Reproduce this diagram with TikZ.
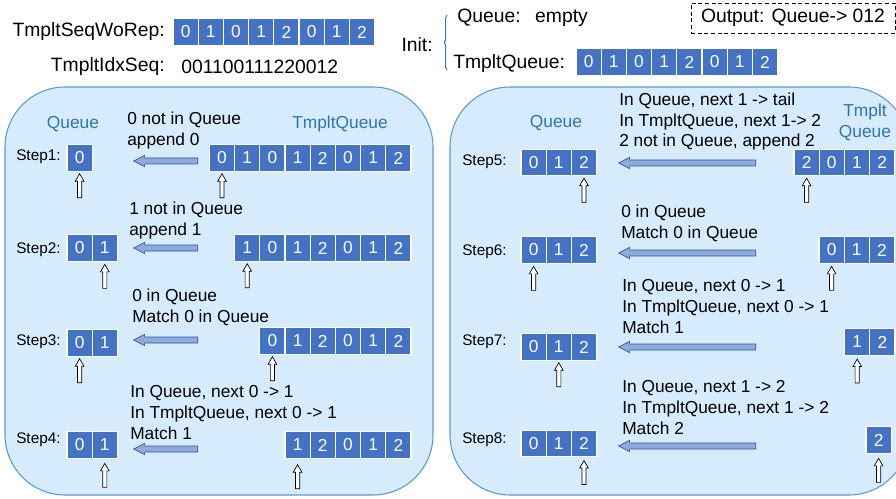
\documentclass[tikz,border=0pt]{standalone}
\usepackage{fontspec}
\setmainfont{Liberation Sans}
\usetikzlibrary{shapes.arrows}
\usetikzlibrary{decorations.pathreplacing}
\definecolor{cellblue}{HTML}{4472C4}
\definecolor{panelfill}{HTML}{D6EBFB}
\definecolor{paneledge}{HTML}{5B9BD5}
\definecolor{headblue}{HTML}{2E75B6}
\definecolor{movefill}{HTML}{8FAADC}
\definecolor{moveedge}{HTML}{2F5597}
\tikzset{
  cellbox/.style={fill=cellblue, draw=white, line width=0.8pt, text=white, minimum width=18.9pt, minimum height=19.8pt, inner sep=0pt, font=\fontsize{13}{15}\selectfont},
  note/.style={anchor=base west, align=left, inner sep=0pt, font=\fontsize{13}{15.4}\selectfont},
  head/.style={text=headblue, inner sep=0pt, align=center, font=\fontsize{13}{15.6}\selectfont},
  steplabel/.style={anchor=west, inner sep=0pt, font=\fontsize{11.5}{13}\selectfont},
  toplabel/.style={inner sep=0pt, font=\fontsize{14.5}{17}\selectfont},
  ptr/.style={single arrow, draw=black, fill=white, line width=0.5pt, shape border rotate=90, anchor=tip, minimum height=18pt, inner sep=1.3pt, single arrow head extend=1.7pt, single arrow tip angle=60, single arrow head indent=0pt},
  movearrow/.style={single arrow, draw=moveedge, fill=movefill, line width=0.5pt, shape border rotate=180, anchor=tip, inner sep=2pt, single arrow head extend=2pt, single arrow tip angle=55, single arrow head indent=0pt},
  panel/.style={fill=panelfill, draw=paneledge, line width=0.8pt, rounded corners=45pt}
}
\newcommand{\cellrow}[4]{\foreach \d [count=\i] in {#4} \node[cellbox] (#1\i) at ({#2+25.2*\i-12.6}, #3) {\d};}

\begin{document}
\begin{tikzpicture}[x=0.75pt, y=-0.75pt]
    \useasboundingbox (0,0) rectangle (896,499);
    \clip (0,0) rectangle (896,499);

    % inputs
    \node[toplabel, anchor=east] (seqlabel) at (165,32) {TmpltSeqWoRep:};
    \cellrow{seq}{173}{32}{0,1,0,1,2,0,1,2}
    \node[toplabel, anchor=east] (idxlabel) at (165,67) {TmpltIdxSeq:};
    \node[toplabel, anchor=west] (idxseq) at (181,67) {001100111220012};

    % init
    \node[toplabel, anchor=east] (initlabel) at (433,45) {Init:};
    \draw[decorate, decoration={brace, amplitude=2pt}, draw=cellblue, line width=0.8pt] (447,70) -- (447,15);
    \node[toplabel, anchor=west] (initq) at (457,18) {Queue:\hspace{0.75em}empty};
    \node[toplabel, anchor=west] (initt) at (453,64) {TmpltQueue:};
    \cellrow{init}{576}{62}{0,1,0,1,2,0,1,2}
    \node[toplabel, draw, densely dashed, line width=0.6pt, minimum width=153pt, minimum height=22.5pt] (output) at (793,18) {Output: Queue-> 012};

    % panels
    \draw[panel] (5,87) rectangle (433,495);
    \draw[panel] (450,87) rectangle (909,495);
    \node[head] (lqhead) at (73,124) {Queue};
    \node[head] (lthead) at (340,124) {TmpltQueue};
    \node[head] (rqhead) at (556,123) {Queue};
    \node[head] (rthead) at (865,122) {Tmplt\\Queue};

    % step1
    \node[steplabel] (st1) at (16,157) {Step1:};
    \cellrow{s1q}{67}{158}{0}
    \cellrow{s1t}{209.4}{158}{0,1,0,1,2,0,1,2}
    \node[movearrow, minimum height=48pt] (s1mv) at (133,161) {};
    \node[ptr] (s1qp) at ([yshift=-1pt]s1q1.south) {};
    \node[ptr] (s1tp) at ([yshift=-1pt]s1t1.south) {};
    \node[note] (s1txt) at (127,145.5) {0 not in Queue\\append 0};

    % step2
    \node[steplabel] (st2) at (16,250) {Step2:};
    \cellrow{s2q}{67}{248}{0,1}
    \cellrow{s2t}{234.6}{248}{1,0,1,2,0,1,2}
    \node[movearrow, minimum height=48pt] (s2mv) at (133,248) {};
    \node[ptr] (s2qp) at ([yshift=-1.5pt]s2q2.south) {};
    \node[ptr] (s2tp) at ([yshift=-1pt]s2t1.south) {};
    \node[note] (s2txt) at (129,235.5) {1 not in Queue\\append 1};

    % step3
    \node[steplabel] (st3) at (16,342) {Step3:};
    \cellrow{s3q}{67}{343}{0,1}
    \cellrow{s3t}{259.8}{341}{0,1,2,0,1,2}
    \node[movearrow, minimum height=48pt] (s3mv) at (133,340) {};
    \node[ptr] (s3qp) at ([yshift=-1pt]s3q1.south) {};
    \node[ptr] (s3tp) at ([yshift=-1pt]s3t1.south) {};
    \node[note] (s3txt) at (132,322.5) {0 in Queue\\Match 0 in Queue};

    % step4
    \node[steplabel] (st4) at (16,440) {Step4:};
    \cellrow{s4q}{67}{445}{0,1}
    \cellrow{s4t}{285}{445}{1,2,0,1,2}
    \node[movearrow, minimum height=48pt] (s4mv) at (133,449) {};
    \node[ptr] (s4qp) at ([yshift=-3pt]s4q2.south) {};
    \node[ptr] (s4tp) at ([yshift=-4pt]s4t1.south) {};
    \node[note] (s4txt) at (130,439) {In Queue, next 0 -> 1\\In TmpltQueue, next 0 -> 1\\Match 1};

    % step5
    \node[steplabel] (st5) at (462,162) {Step5:};
    \cellrow{s5q}{521}{162.5}{0,1,2}
    \cellrow{s5t}{794}{162.5}{2,0,1,2}
    \node[movearrow, minimum height=102.75pt] (s5mv) at (618,163) {};
    \node[ptr] (s5qp) at ([yshift=-1pt]s5q3.south) {};
    \node[ptr] (s5tp) at ([yshift=-1pt]s5t1.south) {};
    \node[note] (s5txt) at (619,147) {In Queue, next 1 -> tail\\In TmpltQueue, next 1-> 2\\2 not in Queue, append 2};

    % step6
    \node[steplabel] (st6) at (462,252) {Step6:};
    \cellrow{s6q}{521}{250}{0,1,2}
    \cellrow{s6t}{819}{250}{0,1,2}
    \node[movearrow, minimum height=102.75pt] (s6mv) at (618,253) {};
    \node[ptr] (s6qp) at ([yshift=-1.5pt]s6q1.south) {};
    \node[ptr] (s6tp) at ([yshift=-1.5pt]s6t1.south) {};
    \node[note] (s6txt) at (621,238.5) {0 in Queue\\Match 0 in Queue};

    % step7
    \node[steplabel] (st7) at (462,342) {Step7:};
    \cellrow{s7q}{521}{347}{0,1,2}
    \cellrow{s7t}{844.6}{342}{1,2}
    \node[movearrow, minimum height=102.75pt] (s7mv) at (618,347) {};
    \node[ptr] (s7qp) at ([yshift=-1pt]s7q2.south) {};
    \node[ptr] (s7tp) at ([yshift=-2pt]s7t1.south) {};
    \node[note] (s7txt) at (622,333) {In Queue, next 0 -> 1\\In TmpltQueue, next 0 -> 1\\Match 1};

    % step8
    \node[steplabel] (st8) at (462,440) {Step8:};
    \cellrow{s8q}{521}{443.5}{0,1,2}
    \cellrow{s8t}{866}{440}{2}
    \node[movearrow, minimum height=102.75pt] (s8mv) at (618,446) {};
    \node[ptr] (s8qp) at ([yshift=-2pt]s8q3.south) {};
    \node[ptr] (s8tp) at ([yshift=-3pt]s8t1.south) {};
    \node[note] (s8txt) at (622,434) {In Queue, next 1 -> 2\\In TmpltQueue, next 1 -> 2\\Match 2};
\end{tikzpicture}
\end{document}
